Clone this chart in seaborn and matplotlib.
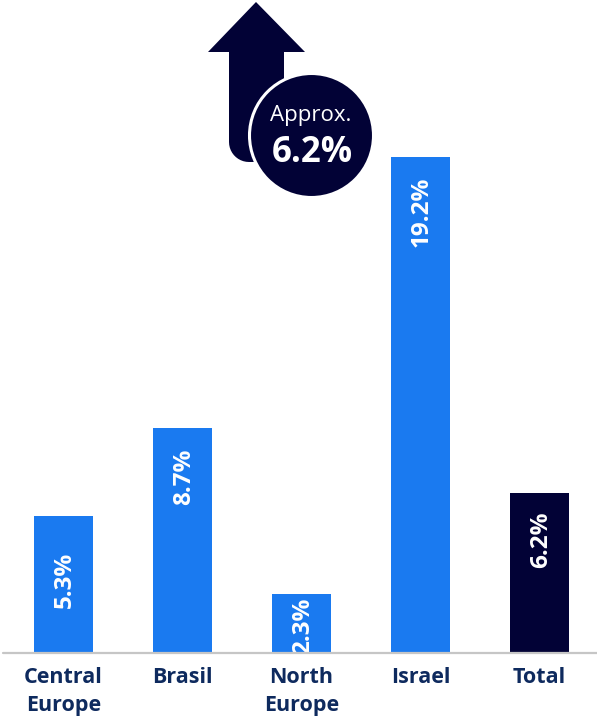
import matplotlib
matplotlib.use("Agg")
import matplotlib.pyplot as plt
import seaborn as sns
import pandas as pd
import numpy as np
from matplotlib.patches import Circle, PathPatch
from matplotlib.path import Path

# Chart data
regions = ["Central\nEurope", "Brasil", "North\nEurope", "Israel", "Total"]
growth = [5.3, 8.7, 2.3, 19.2, 6.2]
value_labels = ["5.3%", "8.7%", "2.3%", "19.2%", "6.2%"]
headline_caption = "Approx."
headline_value = "6.2%"

# Styling
BLUE = "#1a7af0"
NAVY = "#020236"
TICK_COLOR = "#0e2a5e"
bar_colors = [BLUE, BLUE, BLUE, BLUE, NAVY]
label_gap_px = [36, 20, 4, 20, 19]   # distance of each value label below its bar top

sns.set_theme(style="white")
plt.rcParams["font.family"] = ["Open Sans", "DejaVu Sans"]

W, H = 597, 718
fig = plt.figure(figsize=(W / 100, H / 100), dpi=100)
base_px = 653
px_per_unit = 25.83
ax = fig.add_axes([0, (H - base_px) / H, 1, base_px / H])

df = pd.DataFrame({"region": regions, "growth": growth})
sns.barplot(data=df, x="region", y="growth", hue="region",
            palette=dict(zip(regions, bar_colors)), width=0.496,
            saturation=1, legend=False, linewidth=0, ax=ax)

ax.set_xlim(-63.5 / 119, (W - 63.5) / 119)
ax.set_ylim(0, base_px / px_per_unit)
ax.set_xlabel("")
ax.set_ylabel("")
ax.set_yticks([])
sns.despine(ax=ax, left=True, bottom=True)
ax.set_facecolor("none")

ax.tick_params(axis="x", length=0, pad=10)
for lbl in ax.get_xticklabels():
    lbl.set_fontsize(15.5)
    lbl.set_fontweight("bold")
    lbl.set_color(TICK_COLOR)
    lbl.set_linespacing(1.45)

# value labels inside the bars, rotated
for i, (v, txt) in enumerate(zip(growth, value_labels)):
    ax.annotate(txt, xy=(i, v), xytext=(1, -label_gap_px[i] * 0.72),
                textcoords="offset points", rotation=90, ha="center", va="top",
                color="white", fontsize=17.5, fontweight="bold",
                annotation_clip=True, clip_on=True)

# baseline
ax.axhline(0, xmin=0.005, xmax=1, color="#c6c6c6", lw=1.6, clip_on=False, zorder=5)

# headline badge: arrow with circle
ov = fig.add_axes([0, 0, 1, 1])
ov.set_xlim(0, W)
ov.set_ylim(H, 0)
ov.axis("off")
ov.set_facecolor("none")

r = 20
cx, cy = 229 + r, 162 - r
t = np.linspace(np.pi / 2, np.pi, 12)
arc = [(cx + r * np.cos(a), cy + r * np.sin(a)) for a in t]
verts = [(208, 52), (256, 2), (305, 52), (284, 52), (284, 162)] + arc + [(229, 52), (208, 52)]
codes = [Path.MOVETO] + [Path.LINETO] * (len(verts) - 2) + [Path.CLOSEPOLY]
ov.add_patch(PathPatch(Path(verts, codes), facecolor=NAVY, edgecolor="none"))
ov.add_patch(Circle((311.5, 135.5), 62, facecolor=NAVY, edgecolor="white", lw=2.2))
ov.text(311, 115, headline_caption, ha="center", va="center", color="white",
        fontsize=16, fontweight="normal")
ov.text(312, 153, headline_value, ha="center", va="center", color="white",
        fontsize=25, fontweight="bold")

fig.savefig("out.png", dpi=100)
